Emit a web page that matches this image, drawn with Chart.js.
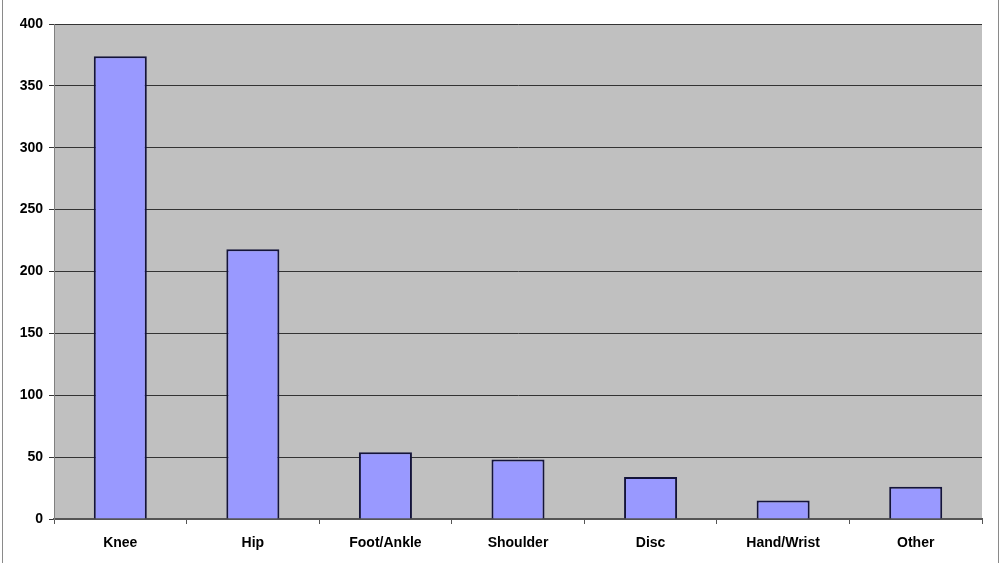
<!DOCTYPE html>
<html lang="en">
<head>
  <meta charset="UTF-8" />
  <title>Injuries by site</title>
  <script src="https://cdn.jsdelivr.net/npm/chart.js"></script>
  <style>
    html, body { margin: 0; padding: 0; background: #ffffff; }
    .frame {
      position: relative;
      width: 1000px;
      height: 563px;
      box-sizing: border-box;
    }
    .frame::after {
      content: "";
      position: absolute;
      left: 2px; top: 0; right: 1px; bottom: 0;
      border-left: 1px solid #8a8a8a;
      border-right: 1px solid #8a8a8a;
      pointer-events: none;
    }
    canvas { display: block; }
  </style>
</head>
<body>
  <div class="frame">
    <canvas id="chart" width="1000" height="563"></canvas>
  </div>

  <script>
    const categories = ['Knee', 'Hip', 'Foot/Ankle', 'Shoulder', 'Disc', 'Hand/Wrist', 'Other'];
    const counts = [374, 218, 54, 48, 34, 15, 26];
    const yTicks = [0, 50, 100, 150, 200, 250, 300, 350, 400];

    // grey plot background like the old spreadsheet charts
    const plotBackground = {
      id: 'plotBackground',
      beforeDraw(chart) {
        const { ctx, chartArea: a } = chart;
        ctx.save();
        ctx.fillStyle = '#c0c0c0';
        ctx.fillRect(a.left, a.top, a.right - a.left, a.bottom - a.top);
        ctx.restore();
      }
    };

    const font = { family: '"Liberation Sans", Arial, sans-serif', size: 14, weight: 'bold' };

    new Chart(document.getElementById('chart'), {
      type: 'bar',
      data: {
        labels: categories,
        datasets: [{
          data: counts,
          backgroundColor: '#9999ff',
          borderColor: '#14143a',
          borderWidth: 2,
          barPercentage: 0.8,
          categoryPercentage: 0.5
        }]
      },
      options: {
        responsive: false,
        animation: false,
        layout: { padding: { top: 24, right: 18, bottom: 0, left: 0 } },
        plugins: {
          legend: { display: false },
          tooltip: { enabled: false }
        },
        scales: {
          x: {
            grid: {
              offset: true,
              drawOnChartArea: false,
              color: '#555555',
              tickLength: 5
            },
            border: { color: '#555555', width: 2 },
            ticks: { color: '#000000', font, padding: 11, maxRotation: 0 },
            afterFit(scale) { scale.height = 44; }
          },
          y: {
            min: 0,
            max: 400,
            afterBuildTicks(scale) { scale.ticks = yTicks.map(v => ({ value: v })); },
            grid: { color: '#333333', lineWidth: 1, tickLength: 5 },
            border: { color: '#808080', width: 1 },
            ticks: { color: '#000000', font, padding: 6 },
            afterFit(scale) { scale.width = 54; }
          }
        }
      },
      plugins: [plotBackground]
    });
  </script>
</body>
</html>
